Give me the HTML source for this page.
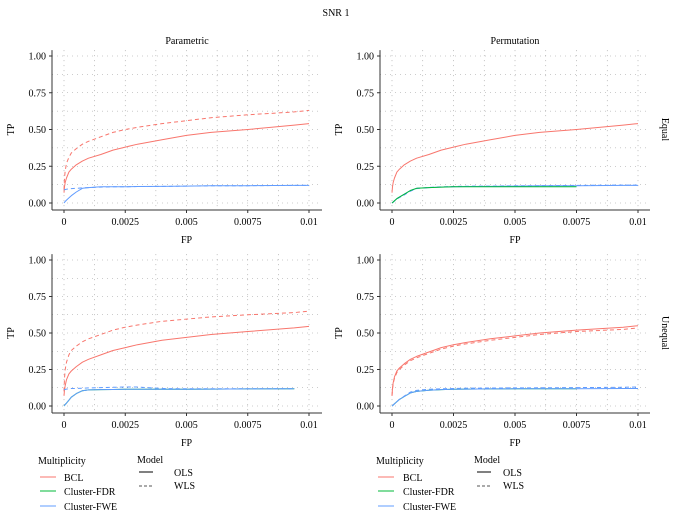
<!DOCTYPE html>
<html><head><meta charset="utf-8"><style>
html,body{margin:0;padding:0;background:#fff;}
svg{display:block;font-family:"Liberation Serif",serif;}
</style></head><body>
<svg id="chart" width="673" height="513" viewBox="0 0 673 513">
<text x="336" y="16" font-size="10" text-anchor="middle">SNR 1</text>
<text x="187" y="44" font-size="10" text-anchor="middle">Parametric</text>
<text x="515" y="44" font-size="10" text-anchor="middle">Permutation</text>
<g id="panels"></g>
<g id="legend" font-size="10">
 <g>
  <text x="38" y="464">Multiplicity</text>
  <line x1="40" x2="56" y1="477" y2="477" stroke="#F8766D"/><text x="64" y="481">BCL</text>
  <line x1="40" x2="56" y1="491" y2="491" stroke="#00BA38"/><text x="64" y="495">Cluster-FDR</text>
  <line x1="40" x2="56" y1="506" y2="506" stroke="#619CFF"/><text x="64" y="510">Cluster-FWE</text>
 </g>
 <g>
  <text x="137" y="463">Model</text>
  <line x1="139" x2="153" y1="472" y2="472" stroke="#555" stroke-width="1.5"/><text x="174" y="476">OLS</text>
  <line x1="139" x2="153" y1="486" y2="486" stroke="#555" stroke-dasharray="3,2"/><text x="174" y="489">WLS</text>
 </g>
 <g>
  <text x="376" y="464">Multiplicity</text>
  <line x1="378" x2="394" y1="477" y2="477" stroke="#F8766D"/><text x="403" y="481">BCL</text>
  <line x1="378" x2="394" y1="491" y2="491" stroke="#00BA38"/><text x="403" y="495">Cluster-FDR</text>
  <line x1="378" x2="394" y1="506" y2="506" stroke="#619CFF"/><text x="403" y="510">Cluster-FWE</text>
 </g>
 <g>
  <text x="474" y="463">Model</text>
  <line x1="477" x2="491" y1="472" y2="472" stroke="#555" stroke-width="1.5"/><text x="503" y="476">OLS</text>
  <line x1="477" x2="491" y1="486" y2="486" stroke="#555" stroke-dasharray="3,2"/><text x="503" y="489">WLS</text>
 </g>
</g>
</svg>
<script>
const fpValues = [0,0.00002,0.00005,0.0001,0.0002,0.0003,0.0005,0.00075,0.001,0.0015,0.002,0.0025,0.003,0.004,0.005,0.006,0.0075,0.0094,0.01];
const xTicks = [0,0.0025,0.005,0.0075,0.01];
const xTickLabels = ["0","0.0025","0.005","0.0075","0.01"];
const yTicks = [0,0.25,0.5,0.75,1];
const yTickLabels = ["0.00","0.25","0.50","0.75","1.00"];
// Parametric Equal
const pe_bcl_ols = [0.07,0.11,0.14,0.17,0.21,0.23,0.26,0.285,0.305,0.33,0.36,0.38,0.40,0.43,0.46,0.48,0.50,0.53,0.54];
const pe_bcl_wls = [0.09,0.17,0.22,0.27,0.31,0.34,0.37,0.40,0.42,0.45,0.48,0.50,0.515,0.54,0.56,0.58,0.60,0.62,0.63];
const pe_fwe_ols = [0,0.005,0.01,0.02,0.035,0.05,0.075,0.10,0.105,0.11,0.11,0.11,0.112,0.113,0.115,0.117,0.118,0.12,0.12];
const pe_fwe_wls = [0.09,0.09,0.092,0.094,0.096,0.098,0.10,0.103,0.105,0.108,0.11,0.11,0.112,0.113,0.115,0.117,0.118,0.12,0.12];
// Permutation Equal
const qe_bcl_ols = [0.07,0.11,0.14,0.17,0.21,0.23,0.26,0.285,0.305,0.33,0.36,0.38,0.40,0.43,0.46,0.48,0.50,0.53,0.54];
const qe_fdr_ols = [0,0.003,0.007,0.015,0.03,0.04,0.06,0.085,0.10,0.105,0.108,0.11,0.11,0.11,0.11,0.11,0.11,null,null];
const qe_fwe_ols = [0,0.003,0.007,0.015,0.03,0.04,0.06,0.085,0.10,0.105,0.108,0.11,0.112,0.113,0.115,0.117,0.118,0.12,0.12];
const qe_fwe_wls = [0,0.003,0.006,0.013,0.027,0.037,0.055,0.08,0.098,0.106,0.11,0.112,0.114,0.115,0.117,0.118,0.12,0.122,0.122];
// Parametric Unequal
const pu_bcl_ols = [0.07,0.11,0.14,0.18,0.22,0.24,0.27,0.30,0.32,0.35,0.38,0.40,0.42,0.45,0.47,0.49,0.51,0.535,0.545];
const pu_bcl_wls = [0.10,0.19,0.25,0.30,0.35,0.38,0.41,0.44,0.46,0.49,0.52,0.54,0.555,0.58,0.595,0.61,0.625,0.64,0.65];
const pu_fdr_ols = [0,0.005,0.01,0.02,0.04,0.06,0.085,0.105,0.11,0.112,0.113,0.115,0.115,0.115,0.115,0.116,0.117,0.118,null];
const pu_fwe_ols = [0,0.005,0.01,0.02,0.04,0.06,0.085,0.105,0.11,0.112,0.113,0.115,0.115,0.115,0.115,0.116,0.117,0.118,null];
const pu_fwe_wls = [0.11,0.112,0.114,0.116,0.118,0.12,0.12,0.122,0.124,0.126,0.128,0.13,0.13,0.12,0.118,0.118,0.118,0.118,null];
// Permutation Unequal
const qu_bcl_ols = [0.07,0.12,0.16,0.20,0.24,0.26,0.29,0.32,0.34,0.37,0.40,0.42,0.435,0.46,0.48,0.50,0.52,0.54,0.55];
const qu_bcl_wls = [0.07,0.115,0.155,0.19,0.23,0.25,0.28,0.31,0.33,0.36,0.39,0.41,0.425,0.45,0.47,0.49,0.51,0.525,0.535];
const qu_fdr_ols = [0,0.003,0.007,0.015,0.03,0.045,0.065,0.09,0.10,0.108,0.112,0.115,0.116,0.117,0.118,0.118,0.118,null,null];
const qu_fwe_ols = [0,0.003,0.007,0.015,0.03,0.045,0.065,0.09,0.10,0.108,0.112,0.115,0.116,0.117,0.118,0.118,0.118,0.12,0.12];
const qu_fwe_wls = [0,0.003,0.007,0.015,0.03,0.045,0.068,0.095,0.107,0.115,0.118,0.12,0.122,0.123,0.124,0.125,0.126,0.128,0.13];

const RED="#F8766D",GREEN="#00BA38",BLUE="#619CFF";
const NS="http://www.w3.org/2000/svg";
const root=document.getElementById('panels');
function mk(tag,attrs,parent){const e=document.createElementNS(NS,tag);for(const k in attrs)e.setAttribute(k,attrs[k]);parent.appendChild(e);return e;}
const panels=[
 {name:'parametric-equal',axL:52,x0:64,x1:309,right:322,y0:203,y1:56,axB:210,strip:null,series:[[pe_bcl_wls,RED,true],[pe_bcl_ols,RED,false],[pe_fwe_ols,BLUE,false],[pe_fwe_wls,BLUE,true]]},
 {name:'permutation-equal',axL:380,x0:392,x1:638,right:650,y0:203,y1:56,axB:210,strip:'Equal',series:[[qe_bcl_ols,RED,false],[qe_fwe_wls,BLUE,true],[qe_fwe_ols,BLUE,false],[qe_fdr_ols,GREEN,false]]},
 {name:'parametric-unequal',axL:52,x0:64,x1:309,right:322,y0:406,y1:260,axB:413,strip:null,series:[[pu_bcl_wls,RED,true],[pu_bcl_ols,RED,false],[pu_fdr_ols,GREEN,false],[pu_fwe_ols,BLUE,false],[pu_fwe_wls,BLUE,true]]},
 {name:'permutation-unequal',axL:380,x0:392,x1:638,right:650,y0:406,y1:260,axB:413,strip:'Unequal',series:[[qu_bcl_ols,RED,false],[qu_bcl_wls,RED,true],[qu_fdr_ols,GREEN,false],[qu_fwe_ols,BLUE,false],[qu_fwe_wls,BLUE,true]]}
];
panels.forEach(p=>{
 const g=mk('g',{},root);
 
 
 const xs=v=>p.x0+(p.x1-p.x0)*v/0.01, ys=v=>p.y0+(p.y1-p.y0)*v;
 const top=ys(1.04);
 for(let i=0;i<=8;i++){const v=i*0.00125;mk('line',{x1:xs(v),x2:xs(v),y1:top,y2:p.axB,stroke:'#999','stroke-width':0.6,'stroke-dasharray':'1,4'},g);}
 for(let i=0;i<=8;i++){const v=i*0.125;mk('line',{x1:p.axL,x2:p.right,y1:ys(v),y2:ys(v),stroke:'#999','stroke-width':0.6,'stroke-dasharray':'1,4'},g);}
 mk('line',{x1:p.axL,x2:p.axL,y1:top,y2:p.axB,stroke:'#333','stroke-width':1},g);
 mk('line',{x1:p.axL,x2:p.right,y1:p.axB,y2:p.axB,stroke:'#333','stroke-width':1},g);
 yTicks.forEach((v,i)=>{
  mk('line',{x1:p.axL-3,x2:p.axL,y1:ys(v),y2:ys(v),stroke:'#333'},g);
  const t=mk('text',{x:p.axL-6,y:ys(v)+3.5,'font-size':10,'text-anchor':'end'},g);t.textContent=yTickLabels[i];
  
  
 });
 xTicks.forEach((v,i)=>{
  mk('line',{x1:xs(v),x2:xs(v),y1:p.axB,y2:p.axB+3,stroke:'#333'},g);
  const t=mk('text',{x:xs(v),y:p.axB+15,'font-size':10,'text-anchor':'middle'},g);t.textContent=xTickLabels[i];
  
  
 });
 const xt=mk('text',{x:(p.x0+p.x1)/2,y:p.axB+33,'font-size':10,'text-anchor':'middle'},g);xt.textContent='FP';
 
 
 const yc=(p.y0+p.y1)/2, yx=p.axL-38;
 const yt=mk('text',{x:yx,y:yc,'font-size':10,'text-anchor':'middle',transform:`rotate(-90 ${yx} ${yc})`},g);yt.textContent='TP';
 
 
 if(p.strip){const sx=662;const st=mk('text',{x:sx,y:yc,'font-size':10,'text-anchor':'middle',transform:`rotate(90 ${sx} ${yc})`},g);st.textContent=p.strip;
  
  }
 p.series.forEach(s=>{
  const pts=[];s[0].forEach((v,i)=>{if(v!==null)pts.push(xs(fpValues[i]).toFixed(1)+','+ys(v).toFixed(1));});
  const pl=mk('polyline',{points:pts.join(' '),fill:'none',stroke:s[1],'stroke-width':1,'stroke-linejoin':'round','stroke-dasharray':s[2]?'4,3':'none'},g);
  
  
 });
});
</script>
</body></html>
